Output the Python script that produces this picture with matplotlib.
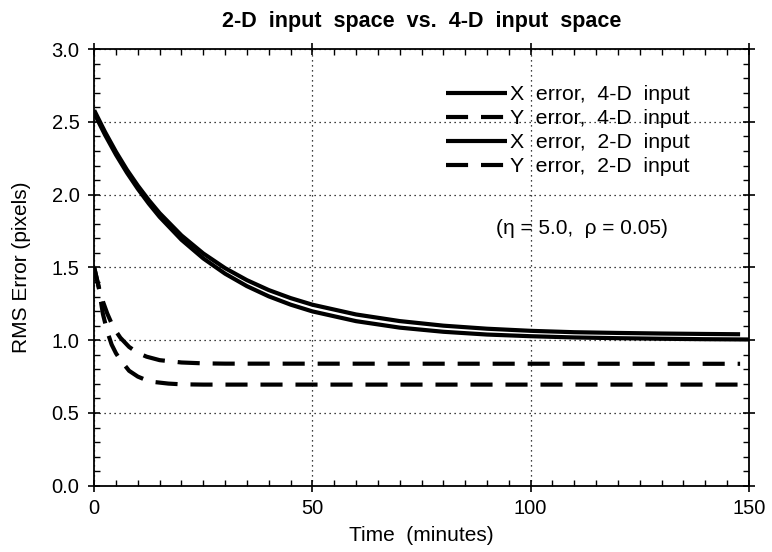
import numpy as np
import matplotlib
matplotlib.use('Agg')
import matplotlib.pyplot as plt
from matplotlib.ticker import MultipleLocator

plt.rcParams['font.family'] = ['Liberation Sans', 'DejaVu Sans']

# X error curves (solid)
t_x4 = [0, 2.5, 5, 7.5, 10, 12.5, 15, 20, 25, 30, 35, 40, 45, 50, 60, 70, 80, 90, 100, 110, 120, 130, 140, 148]
x_err_4d = [2.58, 2.43, 2.294, 2.171, 2.062, 1.963, 1.873, 1.72, 1.596, 1.495, 1.4125, 1.3445, 1.2895, 1.244,
            1.177, 1.1315, 1.10, 1.079, 1.0645, 1.055, 1.05, 1.046, 1.043, 1.041]
t_x2 = [0, 2.5, 5, 7.5, 10, 12.5, 15, 20, 25, 30, 35, 40, 45, 50, 60, 70, 80, 90, 100, 110, 120, 130, 140, 150]
x_err_2d = [2.56, 2.41, 2.274, 2.151, 2.04, 1.939, 1.847, 1.69, 1.562, 1.457, 1.3715, 1.3015, 1.2445, 1.198,
            1.131, 1.0865, 1.058, 1.039, 1.0275, 1.019, 1.014, 1.01, 1.007, 1.005]

# Y error curves (dashed)
t_y4 = [0, 1, 2, 3, 4, 5, 6, 8, 10, 12, 15, 20, 25, 30, 148]
y_err_4d = [1.50, 1.371, 1.266, 1.183, 1.115, 1.061, 1.017, 0.954, 0.913, 0.887, 0.863, 0.847, 0.841, 0.839, 0.838]
t_y2 = [0, 1, 2, 3, 4, 5, 6, 8, 10, 12, 14, 17, 20, 25, 150]
y_err_2d = [1.50, 1.37, 1.18, 1.06, 0.97, 0.91, 0.865, 0.79, 0.75, 0.725, 0.712, 0.702, 0.697, 0.695, 0.695]

labels = ['X  error,  4-D  input', 'Y  error,  4-D  input', 'X  error,  2-D  input', 'Y  error,  2-D  input']

fig = plt.figure(figsize=(7.72, 5.52), dpi=100)
ax = fig.add_axes([0.122, 0.12, 0.848, 0.791])

lw = 3
dash = (5.3, 3.1)
ax.plot(t_x4, x_err_4d, color='black', lw=lw, label=labels[0], solid_capstyle='butt')
ax.plot(t_y4, y_err_4d, color='black', lw=lw, dashes=dash, label=labels[1], dash_capstyle='butt')
ax.plot(t_x2, x_err_2d, color='black', lw=lw, label=labels[2], solid_capstyle='butt')
ax.plot(t_y2, y_err_2d, color='black', lw=lw, dashes=dash, label=labels[3], dash_capstyle='butt')

ax.set_xlim(0, 150)
ax.set_ylim(0, 3.0)
ax.xaxis.set_major_locator(MultipleLocator(50))
ax.xaxis.set_minor_locator(MultipleLocator(5))
ax.yaxis.set_major_locator(MultipleLocator(0.5))
ax.yaxis.set_minor_locator(MultipleLocator(0.1))
ax.yaxis.set_major_formatter(plt.FormatStrFormatter('%.1f'))

ax.tick_params(which='major', direction='inout', length=9, width=1.2, top=True, right=True,
               labelsize=14.5)
ax.tick_params(axis='x', which='major', pad=5)
ax.tick_params(axis='y', which='major', pad=6)
ax.tick_params(which='minor', direction='in', length=4, width=1, top=True, right=True)
ax.grid(True, which='major', linestyle=(0, (1, 3)), color='black', linewidth=0.9)
for s in ax.spines.values():
    s.set_linewidth(1.3)

ax.set_title('2-D  input  space  vs.  4-D  input  space', fontsize=15.5, fontweight='bold', pad=16)
ax.set_xlabel('Time  (minutes)', fontsize=15, labelpad=6)
ax.set_ylabel('RMS Error (pixels)', fontsize=15, labelpad=15)

leg = ax.legend(loc='upper right', bbox_to_anchor=(0.922, 0.937), frameon=False, fontsize=15.3,
                handlelength=2.9, handletextpad=0.1, labelspacing=0.24, borderaxespad=0)
ax.text(0.745, 0.59, '(η = 5.0,  ρ = 0.05)', transform=ax.transAxes, fontsize=15,
        ha='center', va='center')

fig.savefig('out.png', dpi=100)
